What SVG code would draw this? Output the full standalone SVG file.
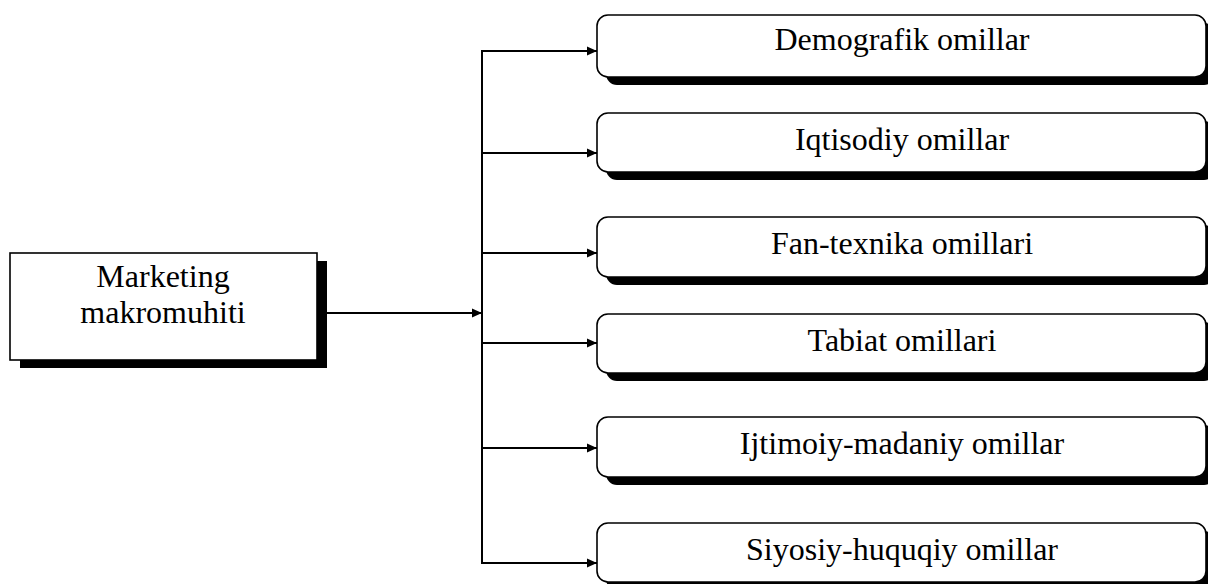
<svg xmlns="http://www.w3.org/2000/svg" width="1208" height="584" viewBox="0 0 1208 584">
  <style>
    .box { fill: #fff; stroke: #000; stroke-width: 1.6; }
    .shadow { fill: #000; stroke: none; }
    .label { font-family: "Liberation Serif", "Times New Roman", serif; font-size: 32px; fill: #000; text-anchor: middle; }
    .wire { fill: none; stroke: #000; stroke-width: 2; }
  </style>
  <defs>
    <marker id="arrow" markerUnits="userSpaceOnUse" markerWidth="12" markerHeight="10" refX="10" refY="5" orient="auto">
      <path d="M0,0.5 L10,5 L0,9.5 Z" fill="#000"/>
    </marker>
  </defs>
  <rect width="1208" height="584" fill="#fff"/>

  <!-- source node -->
  <g id="node-makromuhit">
    <rect class="shadow" x="20" y="261" width="307" height="107"/>
    <rect class="box" x="10" y="253" width="307" height="107"/>
    <text class="label" x="163" y="287">Marketing</text>
    <text class="label" x="163" y="323">makromuhiti</text>
  </g>

  <!-- connectors -->
  <g id="connectors">
    <line class="wire" x1="327" y1="313" x2="482" y2="313" marker-end="url(#arrow)"/>
    <line class="wire" x1="482" y1="51" x2="482" y2="563"/>
    <line class="wire" x1="481" y1="51" x2="597" y2="51" marker-end="url(#arrow)"/>
    <line class="wire" x1="481" y1="153" x2="597" y2="153" marker-end="url(#arrow)"/>
    <line class="wire" x1="481" y1="253" x2="597" y2="253" marker-end="url(#arrow)"/>
    <line class="wire" x1="481" y1="343" x2="597" y2="343" marker-end="url(#arrow)"/>
    <line class="wire" x1="481" y1="448" x2="597" y2="448" marker-end="url(#arrow)"/>
    <line class="wire" x1="481" y1="563" x2="597" y2="563" marker-end="url(#arrow)"/>
  </g>

  <!-- factor nodes -->
  <g id="node-demografik">
    <rect class="shadow" x="606" y="23" width="609" height="62" rx="11"/>
    <rect class="box" x="597" y="15" width="609" height="62" rx="11"/>
    <text class="label" x="902" y="50">Demografik omillar</text>
  </g>
  <g id="node-iqtisodiy">
    <rect class="shadow" x="606" y="121" width="609" height="59" rx="11"/>
    <rect class="box" x="597" y="113" width="609" height="59" rx="11"/>
    <text class="label" x="902" y="150">Iqtisodiy omillar</text>
  </g>
  <g id="node-fan-texnika">
    <rect class="shadow" x="606" y="225" width="609" height="60" rx="11"/>
    <rect class="box" x="597" y="217" width="609" height="60" rx="11"/>
    <text class="label" x="902" y="254">Fan-texnika omillari</text>
  </g>
  <g id="node-tabiat">
    <rect class="shadow" x="606" y="322" width="609" height="59" rx="11"/>
    <rect class="box" x="597" y="314" width="609" height="59" rx="11"/>
    <text class="label" x="902" y="351">Tabiat omillari</text>
  </g>
  <g id="node-ijtimoiy">
    <rect class="shadow" x="606" y="425" width="609" height="60" rx="11"/>
    <rect class="box" x="597" y="417" width="609" height="60" rx="11"/>
    <text class="label" x="902" y="454">Ijtimoiy-madaniy omillar</text>
  </g>
  <g id="node-siyosiy">
    <rect class="shadow" x="606" y="531" width="609" height="59" rx="11"/>
    <rect class="box" x="597" y="523" width="609" height="59" rx="11"/>
    <text class="label" x="902" y="560">Siyosiy-huquqiy omillar</text>
  </g>
</svg>
